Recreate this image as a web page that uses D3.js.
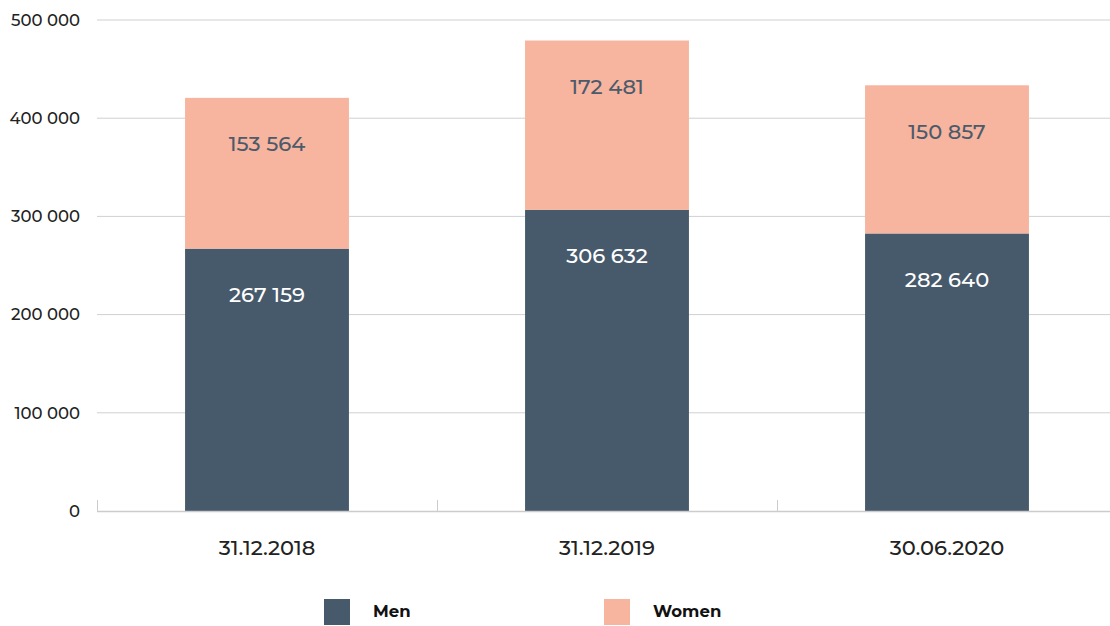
<!DOCTYPE html>
<html lang="en">
<head>
    <style>
        body { margin: 0; background: #fff; }
        svg { display: block; }
        text { font-family: "Montserrat", "DejaVu Sans", sans-serif; }
    </style>
</head>
<body>
    <svg width="1110" height="626"></svg>
    <script src="https://cdn.jsdelivr.net/npm/d3@7"></script>
    <script>
        // Data
        const categories = ["31.12.2018", "31.12.2019", "30.06.2020"];
        const men = [267159, 306632, 282640];
        const women = [153564, 172481, 150857];
        const seriesNames = ["Men", "Women"];
        const colors = ["#475a6b", "#f7b49e"];
        const yTicks = [0, 100000, 200000, 300000, 400000, 500000];

        const svg = d3.select("svg");
        const plotLeft = 97, plotTop = 20, plotBottom = 511;

        const x = d3.scaleBand().domain(categories).range([plotLeft, plotLeft + 3 * 340]).paddingInner(0.518).paddingOuter(0.259);
        const y = d3.scaleLinear().domain([0, 500000]).range([plotBottom, plotTop]);

        const fmt = v => d3.format(",")(v).replace(/,/g, " ");

        // Gridlines
        svg.append("g").selectAll("line").data(yTicks.slice(1)).join("line")
            .attr("x1", plotLeft).attr("x2", 1110)
            .attr("y1", d => y(d)).attr("y2", d => y(d))
            .attr("stroke", "#d0d0d0").attr("stroke-width", 1);

        // Y labels
        svg.append("g").selectAll("text").data(yTicks).join("text")
            .attr("x", 80).attr("y", d => y(d))
            .attr("dy", "0.35em")
            .attr("text-anchor", "end")
            .attr("font-size", 16.5)
            .attr("font-weight", 500)
            .attr("fill", "#222")
            .text(d => fmt(d));

        // Stacked bars
        const table = categories.map((c, i) => ({ cat: c, Men: men[i], Women: women[i] }));
        const stacked = d3.stack().keys(seriesNames)(table);

        const layers = svg.append("g").selectAll("g").data(stacked).join("g")
            .attr("fill", (d, i) => colors[i]);
        layers.selectAll("rect").data(d => d).join("rect")
            .attr("x", d => x(d.data.cat))
            .attr("width", x.bandwidth())
            .attr("y", d => y(d[1]))
            .attr("height", d => y(d[0]) - y(d[1]));

        // Value labels
        layers.selectAll("text").data(d => d).join("text")
            .attr("x", d => x(d.data.cat) + x.bandwidth() / 2)
            .attr("y", d => y(d[1]) + 46)
            .attr("dy", "0.35em")
            .attr("text-anchor", "middle")
            .attr("font-size", 21)
            .attr("font-weight", 500)
            .attr("fill", function() { return d3.select(this.parentNode).datum().key === "Men" ? "#fff" : "#4b5b6b"; })
            .text(function(d) { return fmt(d[1] - d[0]); });

        // X axis
        const xAxis = svg.append("g");
        xAxis.append("line")
            .attr("x1", plotLeft).attr("x2", 1110)
            .attr("y1", plotBottom + 0.5).attr("y2", plotBottom + 0.5)
            .attr("stroke", "#cccccc").attr("stroke-width", 1.5);
        xAxis.selectAll(".tick").data(categories).join("line")
            .attr("class", "tick")
            .attr("x1", d => x(d) - x.step() * x.paddingOuter() + 0.5)
            .attr("x2", d => x(d) - x.step() * x.paddingOuter() + 0.5)
            .attr("y1", plotBottom - 11).attr("y2", plotBottom)
            .attr("stroke", "#cccccc");
        xAxis.selectAll("text").data(categories).join("text")
            .attr("x", d => x(d) + x.bandwidth() / 2)
            .attr("y", 548)
            .attr("dy", "0.35em")
            .attr("text-anchor", "middle")
            .attr("font-size", 21)
            .attr("font-weight", 500)
            .attr("fill", "#222")
            .text(d => d);

        // Legend
        const legendX = [324, 604];
        const legend = svg.append("g").selectAll("g").data(seriesNames).join("g")
            .attr("transform", (d, i) => `translate(${legendX[i]}, 599)`);
        legend.append("rect").attr("width", 26).attr("height", 26).attr("fill", (d, i) => colors[i]);
        legend.append("text")
            .attr("x", 49).attr("y", 12)
            .attr("dy", "0.35em")
            .attr("font-size", 16.5)
            .attr("font-weight", "bold")
            .attr("fill", "#111")
            .text(d => d);
    </script>
</body>
</html>
